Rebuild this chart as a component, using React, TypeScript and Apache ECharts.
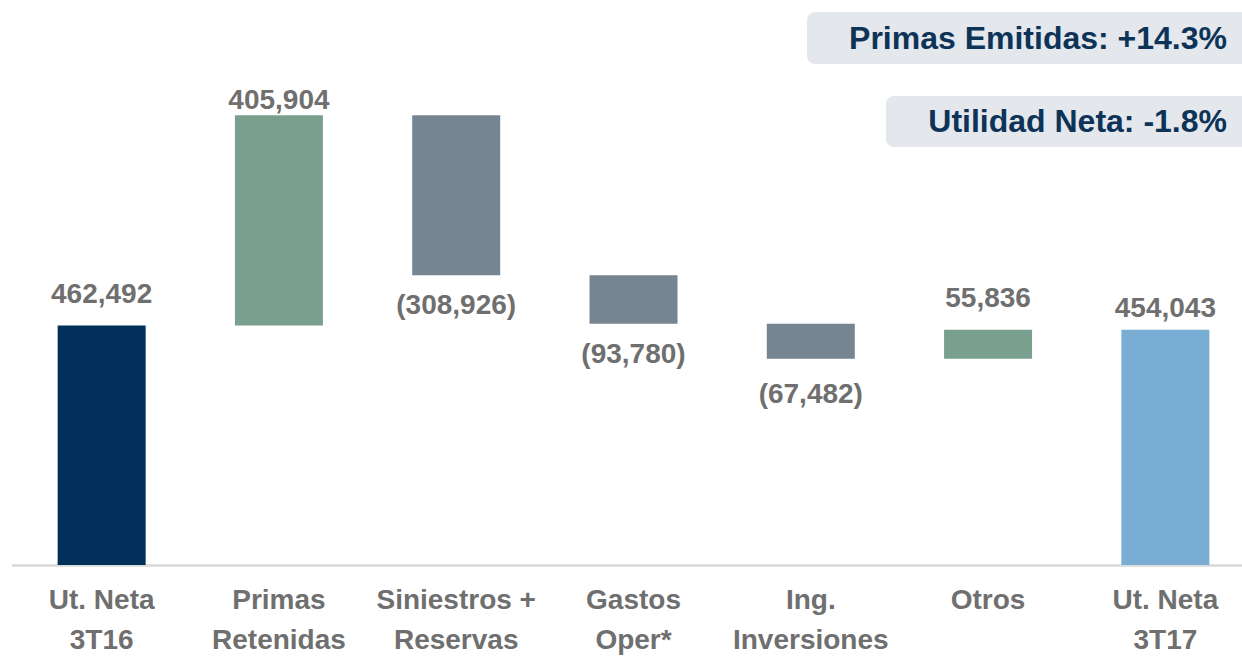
import React, { useEffect, useRef } from "react";
import * as echarts from "echarts";

const categories = [
  "Ut. Neta\n3T16",
  "Primas\nRetenidas",
  "Siniestros +\nReservas",
  "Gastos\nOper*",
  "Ing.\nInversiones",
  "Otros",
  "Ut. Neta\n3T17",
];
// signed changes; first and last are totals
const changes = [462492, 405904, -308926, -93780, -67482, 55836, 454043];
const isTotal = [true, false, false, false, false, false, true];
const barColors = ["#00305a", "#79a08f", "#768592", "#768592", "#768592", "#79a08f", "#79add3"];
const labelPositions = ["top", "top", "bottom", "bottom", "bottom", "top", "top"];
const labelDistances = [18, 2, 15, 16, 21, 18, 8];
const headlines = ["Primas Emitidas: +14.3%", "Utilidad Neta: -1.8%"];

const FONT = "'Liberation Sans', Arial, sans-serif";

function fmt(v: number): string {
  const s = Math.abs(v).toLocaleString("en-US");
  return v < 0 ? `(${s})` : s;
}

export default function App() {
  const ref = useRef<HTMLDivElement>(null);

  useEffect(() => {
    if (!ref.current) return;
    const chart = echarts.init(ref.current, undefined, { renderer: "svg" });

    const bases: number[] = [];
    const heights: number[] = [];
    let running = 0;
    changes.forEach((c, i) => {
      if (isTotal[i]) {
        bases.push(0);
        heights.push(c);
        running = c;
      } else if (c >= 0) {
        bases.push(running);
        heights.push(c);
        running += c;
      } else {
        running += c;
        bases.push(running);
        heights.push(-c);
      }
    });

    chart.setOption({
      animation: false,
      grid: { left: 13, right: 0, top: 47, bottom: 87 },
      xAxis: {
        type: "category",
        data: categories,
        axisLine: { show: true, lineStyle: { color: "#d9d9d9", width: 2.5 } },
        axisTick: { show: false },
        axisLabel: {
          interval: 0,
          margin: 14,
          color: "#6f6f6f",
          fontFamily: FONT,
          fontWeight: "bold",
          fontSize: 28,
          lineHeight: 40,
        },
      },
      yAxis: {
        type: "value",
        min: 0,
        max: 1000000,
        show: false,
        splitLine: { show: false },
      },
      series: [
        {
          type: "bar",
          stack: "w",
          data: bases,
          barWidth: 88,
          itemStyle: { color: "transparent" },
          emphasis: { disabled: true },
          silent: true,
        },
        {
          type: "bar",
          stack: "w",
          barWidth: 88,
          data: heights.map((h, i) => ({
            value: h,
            itemStyle: { color: barColors[i] },
            label: {
              show: true,
              position: labelPositions[i],
              distance: labelDistances[i],
              formatter: () => fmt(changes[i]),
              color: "#6f6f6f",
              fontFamily: FONT,
              fontWeight: "bold",
              fontSize: 28,
            },
          })),
        },
      ],
      graphic: [
        {
          type: "rect",
          shape: { x: 807, y: 12, width: 470, height: 52, r: 8 },
          style: { fill: "#e4e7eb" },
        },
        {
          type: "text",
          style: {
            x: 1227,
            y: 38,
            text: headlines[0],
            align: "right",
            verticalAlign: "middle",
            fill: "#0d3358",
            font: `bold 32px ${FONT}`,
          },
        },
        {
          type: "rect",
          shape: { x: 886, y: 96, width: 400, height: 51, r: 8 },
          style: { fill: "#e4e7eb" },
        },
        {
          type: "text",
          style: {
            x: 1227,
            y: 121,
            text: headlines[1],
            align: "right",
            verticalAlign: "middle",
            fill: "#0d3358",
            font: `bold 32px ${FONT}`,
          },
        },
      ],
    });

    return () => chart.dispose();
  }, []);

  return (
    <div
      style={{ position: "absolute", left: 0, top: 0, width: 1242, height: 659, overflow: "hidden", background: "#fff" }}
    >
      <div ref={ref} style={{ width: 1254, height: 659 }} />
    </div>
  );
}
